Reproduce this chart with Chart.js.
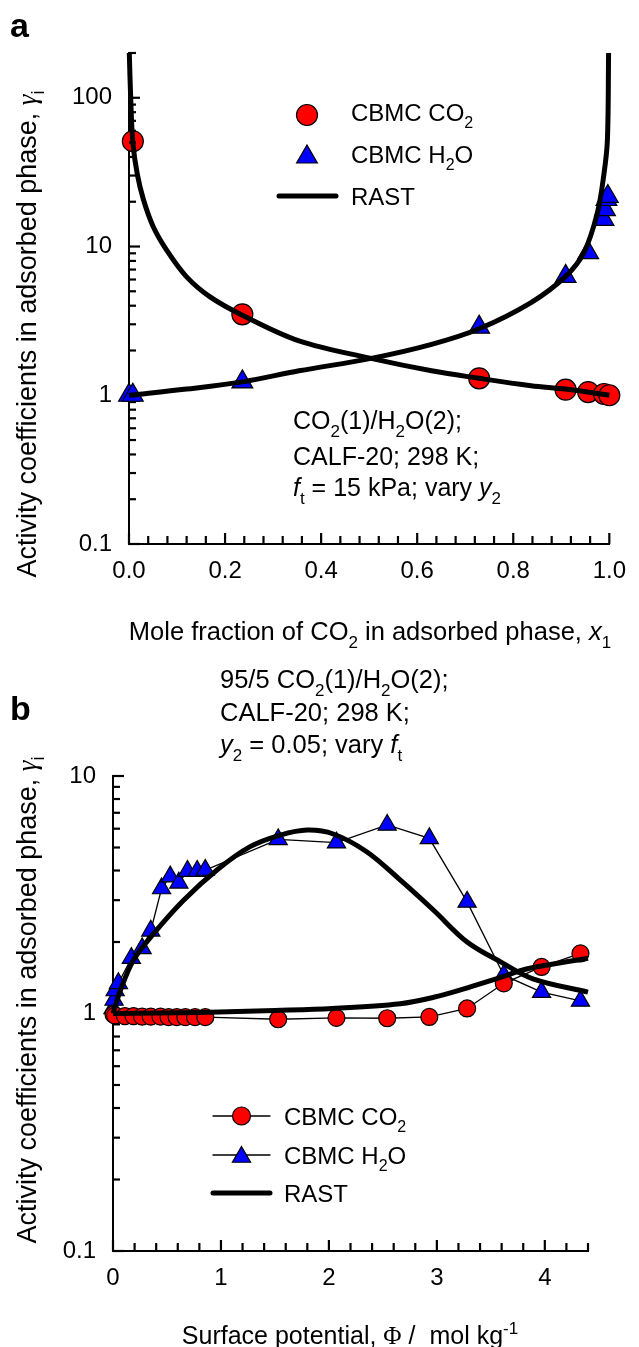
<!DOCTYPE html>
<html>
<head>
<meta charset="utf-8">
<script src="https://cdn.jsdelivr.net/npm/chart.js@4.4.0/dist/chart.umd.min.js"></script>
<style>
  html, body { margin: 0; padding: 0; background: #fff; }
  #wrap { position: relative; width: 639px; height: 1347px; }
  canvas { position: absolute; left: 0; }
  #chartA { top: 0; }
  #chartB { top: 660px; }
</style>
</head>
<body>
<div id="wrap">
  <canvas id="chartA" width="639" height="660"></canvas>
  <canvas id="chartB" width="639" height="687"></canvas>
</div>
<script>
// ---- panel a: vary y2, ft = 15 kPa ----
const cbmcA_x1CO2 = [0.008, 0.236, 0.729, 0.909, 0.956, 0.989, 1.0];
const cbmcA_gCO2  = [51, 3.5, 1.30, 1.09, 1.05, 1.02, 1.0];
const cbmcA_x1H2O = [0.0, 0.008, 0.236, 0.729, 0.909, 0.956, 0.988, 0.991, 0.994, 0.997];
const cbmcA_gH2O  = [1.0, 1.0, 1.23, 2.87, 6.3, 9.1, 15.2, 17.7, 20.7, 21.7];

const rastA_x1CO2 = [0.0006, 0.0035, 0.008, 0.017, 0.03, 0.05, 0.078, 0.119, 0.168, 0.236, 0.354, 0.504, 0.63, 0.729, 0.837, 0.909, 1.0];
const rastA_gCO2  = [200, 100, 50, 31, 20.7, 13.7, 9.5, 6.3, 4.6, 3.45, 2.32, 1.77, 1.46, 1.30, 1.16, 1.10, 1.0];
const rastA_x1H2O = [0.0, 0.12, 0.236, 0.354, 0.504, 0.63, 0.729, 0.837, 0.909, 0.947, 0.975, 0.989, 0.996, 0.9985];
const rastA_gH2O  = [1.0, 1.1, 1.23, 1.46, 1.77, 2.20, 2.80, 4.2, 6.3, 9.1, 16.8, 31, 52, 200];

const xTicksA = [0.0, 0.2, 0.4, 0.6, 0.8, 1.0];

// ---- panel b: 95/5 mixture, vary ft ----
const cbmcB_phiCO2 = [0.005, 0.02, 0.11, 0.19, 0.27, 0.35, 0.44, 0.515, 0.59, 0.67, 0.76, 0.855, 1.53, 2.07, 2.54, 2.93, 3.28, 3.62, 3.97, 4.33];
const cbmcB_gCO2   = [0.99, 0.98, 0.975, 0.975, 0.97, 0.97, 0.97, 0.965, 0.965, 0.965, 0.965, 0.965, 0.946, 0.958, 0.955, 0.967, 1.05, 1.34, 1.57, 1.79];
const cbmcB_phiH2O = [0.0, 0.01, 0.02, 0.05, 0.17, 0.27, 0.35, 0.45, 0.53, 0.61, 0.69, 0.78, 0.855, 1.53, 2.07, 2.54, 2.93, 3.28, 3.62, 3.97, 4.33];
const cbmcB_gH2O   = [1.05, 1.14, 1.25, 1.34, 1.71, 1.88, 2.23, 3.36, 3.77, 3.55, 3.98, 3.98, 4.02, 5.41, 5.24, 6.22, 5.46, 2.95, 1.45, 1.23, 1.13];

const rastB_phiCO2 = [0.0, 0.81, 1.5, 2.03, 2.66, 2.97, 3.25, 3.55, 3.86, 4.40];
const rastB_gCO2   = [1.0, 1.01, 1.03, 1.05, 1.10, 1.17, 1.27, 1.40, 1.55, 1.71];
const rastB_phiH2O = [0.0, 0.068, 0.19, 0.376, 0.654, 0.963, 1.27, 1.55, 1.80, 2.04, 2.35, 2.66, 2.97, 3.28, 3.59, 3.89, 4.40];
const rastB_gH2O   = [1.0, 1.25, 1.68, 2.17, 3.0, 4.02, 5.04, 5.64, 5.92, 5.7, 4.8, 3.65, 2.72, 2.0, 1.65, 1.40, 1.23];

const xTicksB = [0, 1, 2, 3, 4];

const FONT = '"Liberation Sans", Arial, sans-serif';
const RED = '#ff0000';
const BLUE = '#0000ff';

function toPts(xs, ys) {
    return xs.map((x, i) => ({ x: x, y: ys[i] }));
}

// style codes: n normal, i italic, b subscript, p superscript, g serif
function fontFor(s, size) {
    const small = s.includes('b') || s.includes('p');
    const sz = small ? Math.round(size * 0.68) : size;
    const it = s.includes('i') ? 'italic ' : '';
    const fam = s.includes('g') ? '"Liberation Serif", "DejaVu Serif", serif' : FONT;
    return it + sz + 'px ' + fam;
}

function drawRich(ctx, parts, x, y, size, align) {
    let w = 0;
    const widths = [];
    parts.forEach(([t, s]) => {
        ctx.font = fontFor(s, size);
        const pw = ctx.measureText(t).width;
        widths.push(pw);
        w += pw;
    });
    let cx = align === 'center' ? x - w / 2 : (align === 'right' ? x - w : x);
    ctx.textAlign = 'left';
    ctx.textBaseline = 'alphabetic';
    ctx.fillStyle = '#000';
    parts.forEach(([t, s], i) => {
        ctx.font = fontFor(s, size);
        let dy = 0;
        if (s.includes('b')) dy = size * 0.3;
        if (s.includes('p')) dy = -size * 0.4;
        ctx.fillText(t, cx, y + dy);
        cx += widths[i];
    });
}

function legendCircle(ctx, x, y, r) {
    ctx.beginPath();
    ctx.arc(x, y, r, 0, Math.PI * 2);
    ctx.fillStyle = RED;
    ctx.fill();
    ctx.lineWidth = 1.2;
    ctx.strokeStyle = '#000';
    ctx.stroke();
}

function legendTriangle(ctx, x, y, r) {
    ctx.beginPath();
    for (let k = 0; k < 3; k++) {
        const a = k * 2 * Math.PI / 3;
        const px = x + Math.sin(a) * r, py = y - Math.cos(a) * r;
        if (k === 0) ctx.moveTo(px, py); else ctx.lineTo(px, py);
    }
    ctx.closePath();
    ctx.fillStyle = BLUE;
    ctx.fill();
    ctx.lineWidth = 1.2;
    ctx.strokeStyle = '#000';
    ctx.stroke();
}

function legendLine(ctx, x0, x1, y, w) {
    ctx.beginPath();
    ctx.moveTo(x0, y);
    ctx.lineTo(x1, y);
    ctx.lineWidth = w;
    ctx.lineCap = 'round';
    ctx.strokeStyle = '#000';
    ctx.stroke();
}

// tick marks pointing into the plot, longer at the labelled values
function drawInwardTicks(chart, xMax, xMinor, xMajor, yDecades) {
    const ctx = chart.ctx;
    const a = chart.chartArea;
    const sx = chart.scales.x, sy = chart.scales.y;
    ctx.save();
    ctx.strokeStyle = '#000';
    ctx.lineWidth = 2.2;
    const nx = Math.round(xMax / xMinor);
    for (let k = 0; k <= nx; k++) {
        const v = k * xMinor;
        const px = sx.getPixelForValue(v);
        const q = v / xMajor;
        const len = Math.abs(q - Math.round(q)) < 1e-6 ? 11 : 8;
        ctx.beginPath();
        ctx.moveTo(px, a.bottom);
        ctx.lineTo(px, a.bottom - len);
        ctx.stroke();
    }
    yDecades.forEach(d => {
        for (let m = 1; m <= 9; m++) {
            const v = d * m;
            if (v > sy.max * 1.0001) continue;
            const py = sy.getPixelForValue(v);
            const len = m === 1 ? 11 : 7;
            ctx.beginPath();
            ctx.moveTo(a.left, py);
            ctx.lineTo(a.left + len, py);
            ctx.stroke();
        }
    });
    ctx.restore();
}

function logLabel(v) {
    const lg = Math.log10(v);
    if (Math.abs(lg - Math.round(lg)) > 1e-6) return '';
    return v < 1 ? '0.1' : String(Math.round(v));
}

function baseScales(xMin, xMax, xStep, xLabels, xDigits, yMax, yWidth, xHeight) {
    return {
        x: {
            type: 'linear',
            min: xMin,
            max: xMax,
            grid: { display: false, drawTicks: false },
            border: { display: true, color: '#000', width: 2 },
            ticks: {
                stepSize: xStep,
                maxTicksLimit: 200,
                autoSkip: false,
                maxRotation: 0,
                padding: 13,
                color: '#000',
                font: { family: FONT, size: 24 },
                callback: v => {
                    const hit = xLabels.find(l => Math.abs(l - v) < 1e-6);
                    return hit === undefined ? '' : hit.toFixed(xDigits);
                }
            },
            afterFit: s => { s.height = xHeight; }
        },
        y: {
            type: 'logarithmic',
            min: 0.1,
            max: yMax,
            grid: { display: false, drawTicks: false },
            border: { display: true, color: '#000', width: 2 },
            ticks: {
                autoSkip: false,
                padding: 17,
                color: '#000',
                font: { family: FONT, size: 24 },
                callback: v => logLabel(v)
            },
            afterFit: s => { s.width = yWidth; }
        }
    };
}

function rastSet(label, xs, ys) {
    return {
        label: label,
        data: toPts(xs, ys),
        showLine: true,
        borderColor: '#000',
        borderWidth: 5,
        pointRadius: 0,
        tension: 0.35,
        fill: false,
        clip: false,
        order: 0
    };
}

function cbmcSet(label, xs, ys, style, radius, color, connect) {
    return {
        label: label,
        data: toPts(xs, ys),
        showLine: connect,
        borderColor: '#000',
        borderWidth: 1.3,
        pointStyle: style,
        pointRadius: radius,
        pointBackgroundColor: color,
        pointBorderColor: '#000',
        pointBorderWidth: 1.2,
        clip: false,
        order: 1
    };
}

const yTitleParts = [['Activity coefficients in adsorbed phase, ', 'n'], ['\u03B3', 'gi'], ['i', 'b']];

// ---------- panel a ----------
new Chart(document.getElementById('chartA').getContext('2d'), {
    type: 'scatter',
    data: {
        datasets: [
            rastSet('RAST CO2', rastA_x1CO2, rastA_gCO2),
            rastSet('RAST H2O', rastA_x1H2O, rastA_gH2O),
            cbmcSet('CBMC CO2', cbmcA_x1CO2, cbmcA_gCO2, 'circle', 10.5, RED, false),
            cbmcSet('CBMC H2O', cbmcA_x1H2O, cbmcA_gH2O, 'triangle', 12, BLUE, false)
        ]
    },
    options: {
        responsive: false,
        animation: false,
        devicePixelRatio: 1,
        layout: { padding: { left: 0, right: 27, top: 53, bottom: 0 } },
        plugins: {
            legend: { display: false },
            tooltip: { enabled: false }
        },
        scales: baseScales(0, 1, 0.04, xTicksA, 1, 200, 129, 116)
    },
    plugins: [{
        id: 'decorA',
        afterDraw(chart) {
            drawInwardTicks(chart, 1, 0.04, 0.2, [0.1, 1, 10, 100]);
            const ctx = chart.ctx;
            ctx.save();
            ctx.font = 'bold 34px ' + FONT;
            ctx.fillStyle = '#000';
            ctx.textAlign = 'left';
            ctx.textBaseline = 'alphabetic';
            ctx.fillText('a', 10, 37);

            legendCircle(ctx, 307, 115, 10.5);
            legendTriangle(ctx, 307, 157, 12);
            legendLine(ctx, 279, 336, 196, 5);
            drawRich(ctx, [['CBMC CO', 'n'], ['2', 'b']], 351, 121, 24, 'left');
            drawRich(ctx, [['CBMC H', 'n'], ['2', 'b'], ['O', 'n']], 351, 163, 24, 'left');
            drawRich(ctx, [['RAST', 'n']], 351, 205, 24, 'left');

            drawRich(ctx, [['CO', 'n'], ['2', 'b'], ['(1)/H', 'n'], ['2', 'b'], ['O(2);', 'n']], 293, 429, 25, 'left');
            drawRich(ctx, [['CALF-20; 298 K;', 'n']], 293, 465, 25, 'left');
            drawRich(ctx, [['f', 'i'], ['t', 'b'], [' = 15 kPa; vary ', 'n'], ['y', 'i'], ['2', 'b']], 293, 496, 25, 'left');

            drawRich(ctx, [['Mole fraction of CO', 'n'], ['2', 'b'], [' in adsorbed phase, ', 'n'], ['x', 'i'], ['1', 'b']], 370, 640, 25.5, 'center');

            ctx.translate(36, 334);
            ctx.rotate(-Math.PI / 2);
            drawRich(ctx, yTitleParts, 0, 0, 27, 'center');
            ctx.restore();
        }
    }]
});

// ---------- panel b ----------
new Chart(document.getElementById('chartB').getContext('2d'), {
    type: 'scatter',
    data: {
        datasets: [
            rastSet('RAST CO2', rastB_phiCO2, rastB_gCO2),
            rastSet('RAST H2O', rastB_phiH2O, rastB_gH2O),
            cbmcSet('CBMC CO2', cbmcB_phiCO2, cbmcB_gCO2, 'circle', 8.5, RED, true),
            cbmcSet('CBMC H2O', cbmcB_phiH2O, cbmcB_gH2O, 'triangle', 10.5, BLUE, true)
        ]
    },
    options: {
        responsive: false,
        animation: false,
        devicePixelRatio: 1,
        layout: { padding: { left: 0, right: 51, top: 116, bottom: 0 } },
        plugins: {
            legend: { display: false },
            tooltip: { enabled: false }
        },
        scales: baseScales(0, 4.4, 0.2, xTicksB, 0, 10, 113, 96)
    },
    plugins: [{
        id: 'decorB',
        afterDraw(chart) {
            drawInwardTicks(chart, 4.4, 0.2, 1, [0.1, 1, 10]);
            const ctx = chart.ctx;
            ctx.save();
            ctx.font = 'bold 34px ' + FONT;
            ctx.fillStyle = '#000';
            ctx.textAlign = 'left';
            ctx.textBaseline = 'alphabetic';
            ctx.fillText('b', 10, 60);

            drawRich(ctx, [['95/5 CO', 'n'], ['2', 'b'], ['(1)/H', 'n'], ['2', 'b'], ['O(2);', 'n']], 220, 28, 25.5, 'left');
            drawRich(ctx, [['CALF-20; 298 K;', 'n']], 220, 61, 25.5, 'left');
            drawRich(ctx, [['y', 'i'], ['2', 'b'], [' = 0.05; vary ', 'n'], ['f', 'i'], ['t', 'b']], 220, 93, 25.5, 'left');

            legendLine(ctx, 213, 270, 456, 1.3);
            legendCircle(ctx, 241.5, 456, 9);
            legendLine(ctx, 213, 270, 495, 1.3);
            legendTriangle(ctx, 241.5, 497, 10.5);
            legendLine(ctx, 213, 270, 533, 5);
            drawRich(ctx, [['CBMC CO', 'n'], ['2', 'b']], 284, 465, 24, 'left');
            drawRich(ctx, [['CBMC H', 'n'], ['2', 'b'], ['O', 'n']], 284, 504, 24, 'left');
            drawRich(ctx, [['RAST', 'n']], 284, 542, 24, 'left');

            drawRich(ctx, [['Surface potential, ', 'n'], ['\u03A6', 'g'], [' /  mol kg', 'n'], ['-1', 'p']], 350, 684, 25, 'center');

            ctx.translate(36, 340);
            ctx.rotate(-Math.PI / 2);
            drawRich(ctx, yTitleParts, 0, 0, 27, 'center');
            ctx.restore();
        }
    }]
});
</script>
</body>
</html>
